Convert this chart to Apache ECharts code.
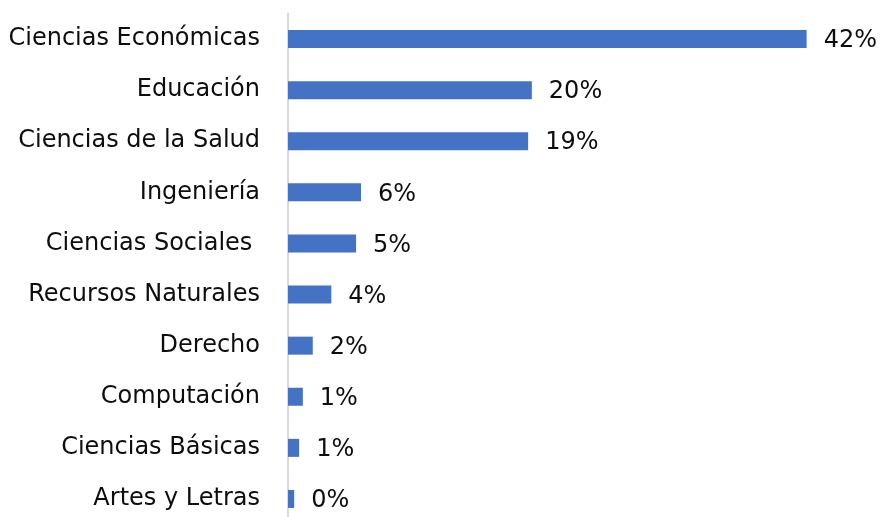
<!DOCTYPE html>
<html>
<head>
<meta charset="utf-8">
<script src="https://cdn.jsdelivr.net/npm/echarts@6/dist/echarts.min.js"></script>
<style>
  html, body { margin: 0; padding: 0; background: #fff; }
  #chart { width: 882px; height: 517px; }
</style>
</head>
<body>
<div id="chart"></div>
<script>
// categorias (de arriba hacia abajo)
var categorias = [
  "Ciencias Económicas",
  "Educación",
  "Ciencias de la Salud",
  "Ingeniería",
  "Ciencias Sociales ",
  "Recursos Naturales",
  "Derecho",
  "Computación",
  "Ciencias Básicas",
  "Artes y Letras"
];
var valores = [41.9, 19.7, 19.4, 5.9, 5.5, 3.5, 2.0, 1.2, 0.9, 0.5];
// etiquetas tal como aparecen en el grafico
var etiquetas = ["42%", "20%", "19%", "6%", "5%", "4%", "2%", "1%", "1%", "0%"];

var chart = echarts.init(document.getElementById("chart"));
chart.setOption({
  backgroundColor: "#fff",
  animation: false,
  textStyle: { fontFamily: "DejaVu Sans" },
  grid: {
    left: 288,
    top: 13.5,
    width: 557,
    height: 511,
    outerBoundsMode: "none"
  },
  xAxis: {
    type: "value",
    min: 0,
    max: 45,
    show: false
  },
  yAxis: {
    type: "category",
    inverse: true,
    data: categorias,
    axisLine: { show: true, lineStyle: { color: "#d9d9d9", width: 2 } },
    axisTick: { show: false },
    axisLabel: {
      margin: 28,
      fontSize: 24,
      color: "#0d0d0d"
    }
  },
  series: [
    {
      type: "bar",
      data: valores,
      barWidth: 18,
      itemStyle: { color: "#4472c4" },
      label: {
        show: true,
        position: "right",
        distance: 17,
        fontSize: 24,
        color: "#0d0d0d",
        offset: [0, 2],
        formatter: function (p) {
          return etiquetas[p.dataIndex];
        }
      }
    }
  ]
});
</script>
</body>
</html>
